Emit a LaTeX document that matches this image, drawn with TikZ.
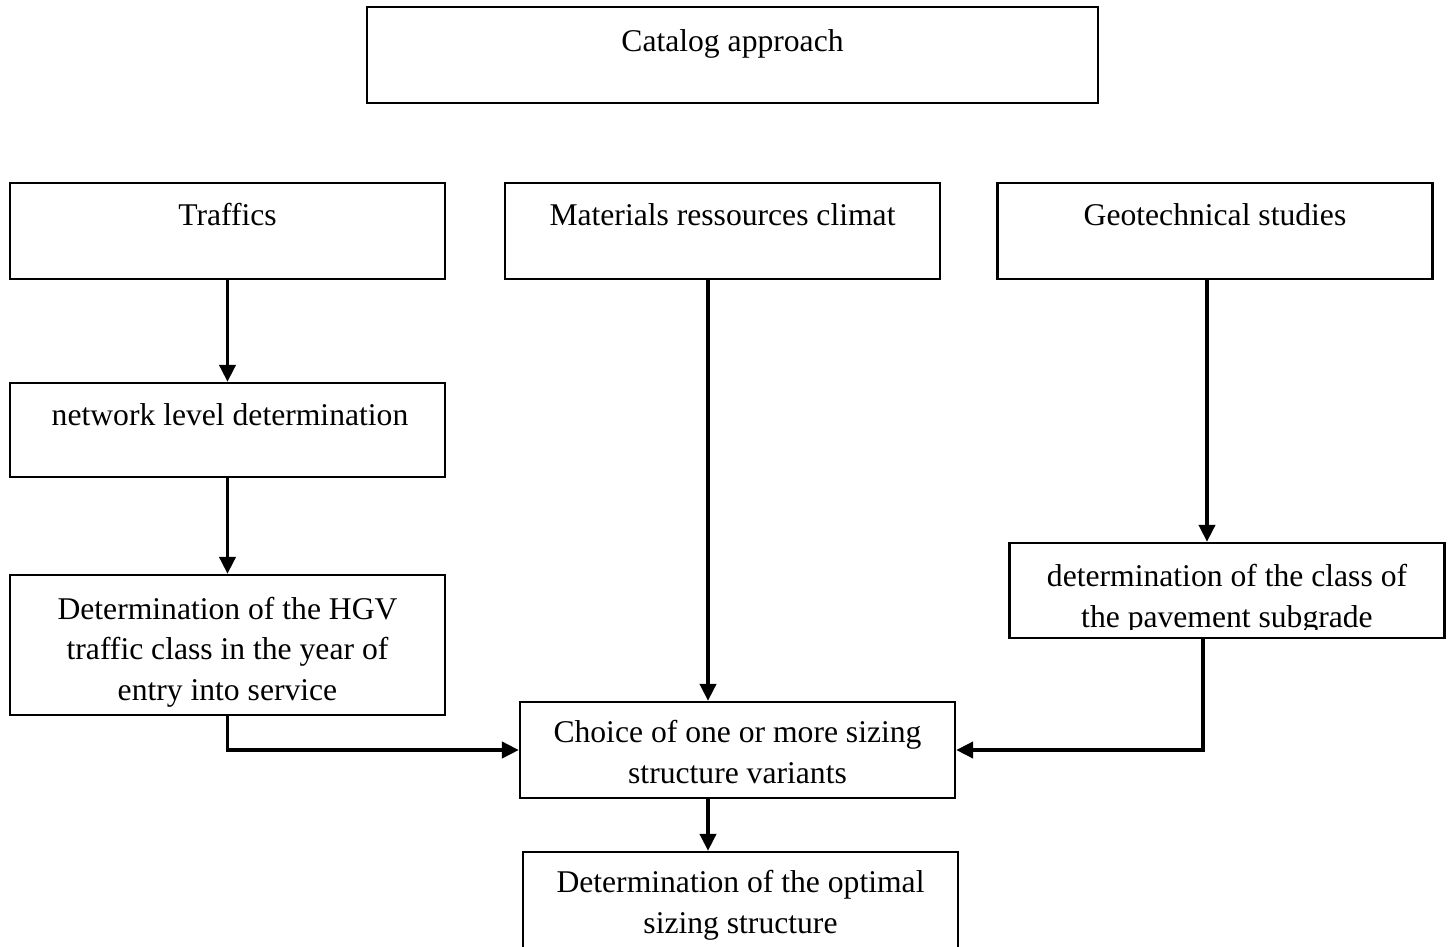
\documentclass[tikz,border=0pt]{standalone}
\usepackage{fontspec}
\setmainfont{Liberation Serif}
\usetikzlibrary{arrows.meta}

\begin{document}
\begin{tikzpicture}[x=0.02cm, y=-0.02cm,
    box/.style={draw, line width=1.3pt, minimum width=8.7cm, minimum height=1.92cm, inner sep=0pt},
    txt/.style={anchor=base, align=center, inner sep=0pt, font=\fontsize{18}{23}\selectfont},
    arr/.style={line width=2.2pt, -{Triangle[length=0.34cm, width=0.32cm]}}]
    \useasboundingbox (0,0) rectangle (1451,947);

    \node[box, minimum width=14.62cm] (cat) at (732.5,55) {};
    \node[box] (traf) at (227.5,231) {};
    \node[box] (mat) at (722.5,231) {};
    \node[box] (geo) at (1215,231) {};
    \node[box, minimum height=1.88cm] (net) at (227.5,430) {};
    \node[box, minimum height=2.8cm] (hgv) at (227.5,645) {};
    \node[box, minimum height=1.9cm] (sub) at (1227,590.5) {};
    \node[box] (choice) at (737.5,750) {};
    \node[box, minimum height=2cm] (opt) at (740.5,902) {};

    % multi-line texts sit on the baseline of their last line
    \node[txt] (catT) at (732.5,51) {Catalog approach};
    \node[txt] (trafT) at (227.5,225) {Traffics};
    \node[txt] (matT) at (722.5,225) {Materials ressources climat};
    \node[txt] (geoT) at (1215,225) {Geotechnical studies};
    \node[txt] (netT) at (230,425) {network level determination};
    \begin{scope}
        \clip (hgv.north west) rectangle ([yshift=0.2cm]hgv.south east);
        \node[txt] (hgvT) at (227.5,700) {Determination of the HGV\\traffic class in the year of\\entry into service};
    \end{scope}
    \begin{scope}
        \clip (sub.north west) rectangle ([yshift=0.2cm]sub.south east);
        \node[txt] (subT) at (1227,627) {determination of the class of\\the pavement subgrade};
    \end{scope}
    \node[txt] (choiceT) at (737.5,783) {Choice of one or more sizing\\structure variants};
    \node[txt] (optT) at (740.5,933) {Determination of the optimal\\sizing structure};

    \draw[arr] (traf) -- (net);
    \draw[arr] (net) -- (hgv);
    \draw[arr] ([xshift=-0.29cm]mat.south) -- ([xshift=-0.29cm]mat.south |- choice.north);
    \draw[arr] ([xshift=-0.16cm]geo.south) -- ([xshift=-0.16cm]geo.south |- sub.north);
    \draw[arr] (hgv.south) |- (choice.west);
    \draw[arr] ([xshift=-0.48cm]sub.south) |- (choice.east);
    \draw[arr] ([xshift=-0.59cm]choice.south) -- ([xshift=-0.59cm]choice.south |- opt.north);
\end{tikzpicture}
\end{document}
